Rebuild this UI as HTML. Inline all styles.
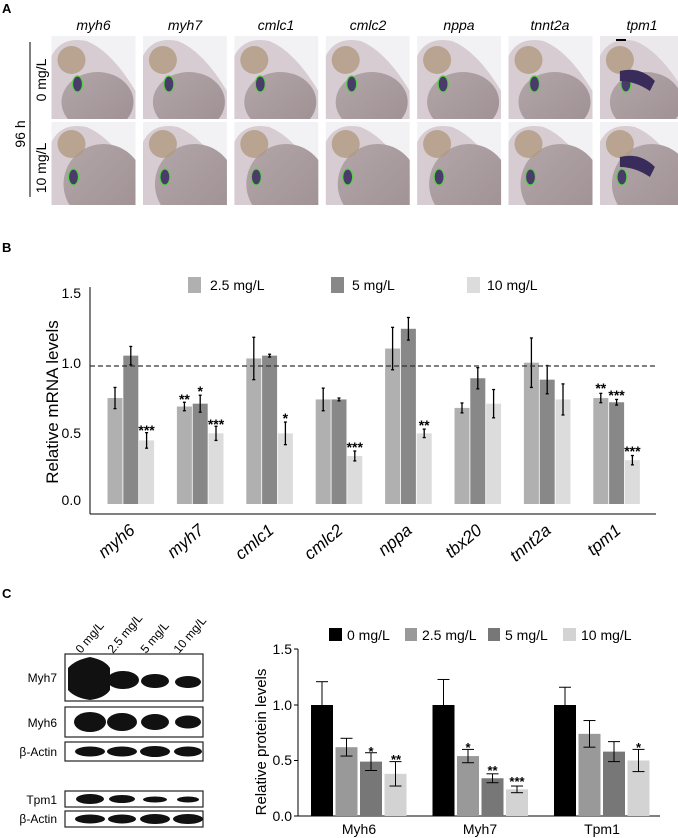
<!DOCTYPE html>
<html><head><meta charset="utf-8"><style>
html,body{margin:0;padding:0;background:#fff;}
svg{display:block;font-family:"Liberation Sans",Arial,sans-serif;}
</style></head><body>
<svg id="s" width="678" height="838" viewBox="0 0 678 838" xmlns="http://www.w3.org/2000/svg">
<defs>
<clipPath id="cl"><rect x="0" y="0" width="84" height="83"/></clipPath>
<linearGradient id="yk" x1="0" y1="0" x2="1" y2="1"><stop offset="0" stop-color="#b3a6a9"/><stop offset="1" stop-color="#9d8f92"/></linearGradient>
</defs>
<g id="cells"></g>
<text x="2" y="13" font-size="13" font-weight="bold">A</text>
<g font-size="14" font-style="italic" text-anchor="middle">
<text x="93.5" y="30">myh6</text><text x="185" y="30">myh7</text><text x="276" y="30">cmlc1</text><text x="368" y="30">cmlc2</text><text x="459" y="30">nppa</text><text x="550" y="30">tnnt2a</text><text x="642" y="30">tpm1</text>
</g>
<line x1="30" y1="42" x2="30" y2="197" stroke="#000" stroke-width="1"/>
<text transform="translate(25,134) rotate(-90)" font-size="14" text-anchor="middle">96 h</text>
<text transform="translate(46,80) rotate(-90)" font-size="14" text-anchor="middle">0 mg/L</text>
<text transform="translate(46,168) rotate(-90)" font-size="14" text-anchor="middle">10 mg/L</text>
<rect x="616" y="39" width="10" height="2" fill="#000"/>

<text x="2" y="252" font-size="13" font-weight="bold">B</text>
<rect x="188" y="277" width="13" height="16" fill="#b0b0b0"/><text x="210" y="290" font-size="14">2.5 mg/L</text>
<rect x="331" y="277" width="13" height="16" fill="#888"/><text x="352" y="290" font-size="14">5 mg/L</text>
<rect x="467" y="277" width="13" height="16" fill="#dcdcdc"/><text x="487" y="290" font-size="14">10 mg/L</text>
<line x1="90" y1="287" x2="90" y2="514" stroke="#000"/>
<line x1="90" y1="514" x2="656" y2="514" stroke="#000"/>
<g font-size="14" text-anchor="end">
<text x="81" y="298">1.5</text><text x="81" y="368">1.0</text><text x="81" y="438">0.5</text><text x="81" y="505">0.0</text>
</g>
<text transform="translate(58,402) rotate(-90)" font-size="17" text-anchor="middle">Relative mRNA levels</text>
<g id="bb"></g>
<line x1="90" y1="366" x2="656" y2="366" stroke="#333" stroke-width="1.3" stroke-dasharray="5,3"/>
<g font-size="14" font-weight="bold" text-anchor="middle">
<text x="146.6" y="435">***</text><text x="184.4" y="404">**</text><text x="200.2" y="396">*</text><text x="216" y="429">***</text>
<text x="285.4" y="423">*</text><text x="354.8" y="452">***</text><text x="424.2" y="430">**</text>
<text x="600.8" y="393">**</text><text x="616.6" y="400">***</text><text x="632.4" y="456">***</text>
</g>
<g font-size="17" font-style="italic" text-anchor="end">
<text transform="translate(136,532) rotate(-40)">myh6</text>
<text transform="translate(205,532) rotate(-40)">myh7</text>
<text transform="translate(275,532) rotate(-40)">cmlc1</text>
<text transform="translate(344,532) rotate(-40)">cmlc2</text>
<text transform="translate(413,532) rotate(-40)">nppa</text>
<text transform="translate(483,532) rotate(-40)">tbx20</text>
<text transform="translate(552,532) rotate(-40)">tnnt2a</text>
<text transform="translate(622,532) rotate(-40)">tpm1</text>
</g>

<text x="2" y="598" font-size="13" font-weight="bold">C</text>
<g font-size="12">
<text transform="translate(81,654) rotate(-50)">0 mg/L</text>
<text transform="translate(113,654) rotate(-50)">2.5 mg/L</text>
<text transform="translate(146,654) rotate(-50)">5 mg/L</text>
<text transform="translate(179,654) rotate(-50)">10 mg/L</text>
</g>
<g font-size="12" text-anchor="end">
<text x="57" y="682">Myh7</text><text x="57" y="727">Myh6</text><text x="57" y="756">β-Actin</text>
<text x="57" y="804">Tpm1</text><text x="57" y="823">β-Actin</text>
</g>
<g stroke="#222" stroke-width="1.2" fill="#fff">
<rect x="65" y="654" width="138" height="47"/><rect x="65" y="707" width="138" height="30"/>
<rect x="65" y="742" width="138" height="19"/><rect x="65" y="791" width="138" height="16"/>
<rect x="65" y="811" width="138" height="16"/>
</g>
<g fill="#111">
<path d="M68 668 Q75 660 90 657 Q105 660 110 668 L110 690 Q105 698 90 700 Q75 698 68 690 Z"/>
<ellipse cx="123" cy="680" rx="16" ry="9"/><ellipse cx="155" cy="681" rx="14" ry="7"/><ellipse cx="188" cy="682" rx="13" ry="6"/>
<ellipse cx="90" cy="722" rx="16" ry="10"/><ellipse cx="122" cy="722" rx="15" ry="9"/><ellipse cx="155" cy="722" rx="14" ry="8"/><ellipse cx="188" cy="722" rx="13" ry="6.5"/>
<ellipse cx="90" cy="751.5" rx="15" ry="5"/><ellipse cx="122" cy="751.5" rx="15" ry="5"/><ellipse cx="155" cy="751.5" rx="15" ry="5.5"/><ellipse cx="188" cy="751.5" rx="14" ry="5"/>
<ellipse cx="90" cy="799" rx="14" ry="5"/><ellipse cx="122" cy="799" rx="13" ry="4"/><ellipse cx="155" cy="799.5" rx="12" ry="3"/><ellipse cx="188" cy="799.5" rx="11" ry="3"/>
<ellipse cx="90" cy="819" rx="15" ry="4.5"/><ellipse cx="122" cy="819" rx="14" ry="4.5"/><ellipse cx="155" cy="819" rx="15" ry="5"/><ellipse cx="188" cy="819" rx="15" ry="5"/>
</g>
<rect x="329" y="628" width="13" height="13" fill="#000"/><text x="347" y="640" font-size="14">0 mg/L</text>
<rect x="405" y="628" width="12" height="13" fill="#999"/><text x="422" y="640" font-size="14">2.5 mg/L</text>
<rect x="488" y="628" width="12" height="13" fill="#777"/><text x="505" y="640" font-size="14">5 mg/L</text>
<rect x="563" y="628" width="13" height="13" fill="#d3d3d3"/><text x="581" y="640" font-size="14">10 mg/L</text>
<line x1="298" y1="649" x2="298" y2="816" stroke="#000"/>
<line x1="298" y1="816" x2="660" y2="816" stroke="#000"/>
<g stroke="#000"><line x1="294" y1="649" x2="298" y2="649"/><line x1="294" y1="705" x2="298" y2="705"/><line x1="294" y1="760.5" x2="298" y2="760.5"/><line x1="294" y1="816" x2="298" y2="816"/></g>
<g font-size="14" text-anchor="end">
<text x="292" y="654">1.5</text><text x="292" y="710">1.0</text><text x="292" y="765">0.5</text><text x="292" y="821">0.0</text>
</g>
<text transform="translate(266,742) rotate(-90)" font-size="15" text-anchor="middle">Relative protein levels</text>
<g id="cb"></g>
<g font-size="13" font-weight="bold" text-anchor="middle">
<text x="371" y="756">*</text><text x="396" y="764">**</text>
<text x="468" y="752">*</text><text x="492.5" y="775">**</text><text x="517" y="786">***</text>
<text x="638.5" y="752">*</text>
</g>
<g font-size="14" text-anchor="middle">
<text x="359" y="834">Myh6</text><text x="480" y="834">Myh7</text><text x="602" y="834">Tpm1</text>
</g>
</svg>
<script>
var NS="http://www.w3.org/2000/svg";
function el(p,t,a){var e=document.createElementNS(NS,t);for(var k in a)e.setAttribute(k,a[k]);p.appendChild(e);return e;}
var cells=document.getElementById('cells');
for(var c=0;c<7;c++){for(var r=0;r<2;r++){
 var x=51.5+c*91.4,y=r?122:36;
 var g=el(cells,'g',{transform:'translate('+x+','+y+')','clip-path':'url(#cl)'});
 el(g,'rect',{x:0,y:0,width:84,height:83,fill:c==6&&r==0?'#ebe9ec':'#f2f1f3'});
 el(g,'path',{d:'M0 20 Q10 0 35 5 Q60 15 84 55 L84 83 L0 83 Z',fill:'#d6ccd2'});
 el(g,'ellipse',{cx:r?52:46,cy:r?62:66,rx:r?40:36,ry:r?40:30,fill:'url(#yk)'});
 el(g,'circle',{cx:20,cy:r?22:24,r:14,fill:'#b09a80',opacity:0.8});
 el(g,'ellipse',{cx:r?22:26,cy:r?55:48,rx:5,ry:8,fill:'#4a3c6a',stroke:'#5ad04a','stroke-width':1.2});
 if(c==6){el(g,'path',{d:'M20 35 Q40 30 55 45 L50 55 Q35 45 20 45Z',fill:'#3a2c5a'});}
}}
var bb=document.getElementById('bb');
var B=[[[.75,.075],[1.05,.065],[.45,.055]],[[.69,.03],[.71,.06],[.50,.05]],[[1.03,.15],[1.05,.01],[.50,.08]],[[.74,.08],[.74,.01],[.34,.035]],[[1.10,.15],[1.24,.08],[.50,.03]],[[.68,.035],[.89,.075],[.71,.10]],[[1.00,.175],[.88,.10],[.74,.11]],[[.75,.033],[.72,.02],[.31,.033]]];
var cols=['#b0b0b0','#888','#dcdcdc'];
for(var i=0;i<8;i++)for(var j=0;j<3;j++){
 var x=107.5+69.4*i+15.8*j,v=B[i][j][0],e=B[i][j][1],s=141.3,z=504;
 el(bb,'rect',{x:x,y:z-v*s,width:15,height:v*s,fill:cols[j]});
 var cx=x+7.5,t=z-(v+e)*s,b=z-(v-e)*s;
 el(bb,'line',{x1:cx,y1:t,x2:cx,y2:b,stroke:'#000','stroke-width':1.3});
 el(bb,'line',{x1:cx-1.5,y1:t,x2:cx+1.5,y2:t,stroke:'#000','stroke-width':1.3});
 el(bb,'line',{x1:cx-1.5,y1:b,x2:cx+1.5,y2:b,stroke:'#000','stroke-width':1.3});
}
var cb=document.getElementById('cb');
var C=[[[1,.21],[.62,.08],[.49,.08],[.38,.11]],[[1,.23],[.54,.06],[.34,.04],[.24,.03]],[[1,.16],[.74,.12],[.58,.09],[.50,.10]]];
var cc=['#000','#999','#777','#d3d3d3'];
for(var i=0;i<3;i++)for(var j=0;j<4;j++){
 var x=311+121.5*i+24.5*j,v=C[i][j][0],e=C[i][j][1],s=111,z=816;
 el(cb,'rect',{x:x,y:z-v*s,width:22,height:v*s,fill:cc[j]});
 var cx=x+11,t=z-(v+e)*s,b=j==0?z-v*s:z-(v-e)*s;
 el(cb,'line',{x1:cx,y1:t,x2:cx,y2:b,stroke:'#000','stroke-width':1});
 el(cb,'line',{x1:cx-6,y1:t,x2:cx+6,y2:t,stroke:'#000','stroke-width':1});
 if(j)el(cb,'line',{x1:cx-6,y1:b,x2:cx+6,y2:b,stroke:'#000','stroke-width':1});
}
</script>
</body></html>
